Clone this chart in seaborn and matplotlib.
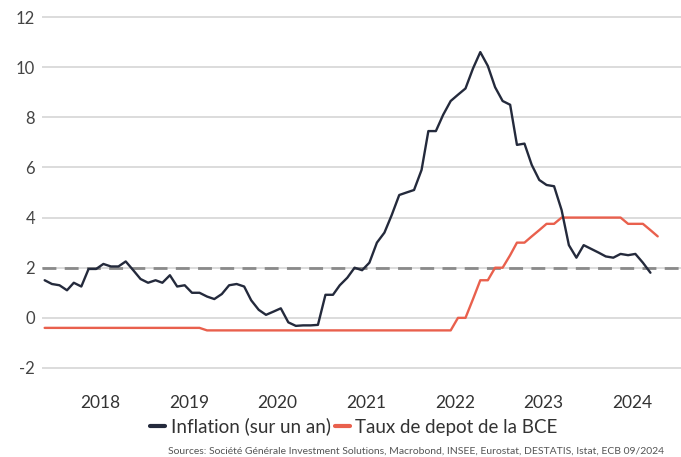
"""Inflation vs ECB deposit rate, monthly, Nov 2017 - Oct 2024."""

import matplotlib
matplotlib.use("Agg")
import matplotlib.dates as mdates
import matplotlib.pyplot as plt
import pandas as pd
import seaborn as sns

sns.set_theme(style="white")
plt.rcParams["font.family"] = ["Lato", "DejaVu Sans"]

# Year-on-year inflation (%), Nov 2017 -> Sep 2024
inflation = [
    1.5, 1.35,                                                              # 2017
    1.3, 1.1, 1.4, 1.25, 1.95, 1.95, 2.15, 2.05, 2.05, 2.25, 1.9, 1.55,     # 2018
    1.4, 1.5, 1.4, 1.7, 1.25, 1.3, 1.0, 1.0, 0.85, 0.75, 0.95, 1.3,         # 2019
    1.35, 1.25, 0.7, 0.32, 0.12, 0.25, 0.38, -0.18, -0.32, -0.3, -0.3, -0.28,  # 2020
    0.92, 0.92, 1.3, 1.6, 2.0, 1.9, 2.2, 3.0, 3.4, 4.1, 4.9, 5.0,           # 2021
    5.1, 5.9, 7.45, 7.45, 8.1, 8.65, 8.9, 9.15, 9.95, 10.6, 10.05, 9.2,     # 2022
    8.65, 8.5, 6.9, 6.95, 6.1, 5.5, 5.3, 5.25, 4.3, 2.9, 2.4, 2.9,          # 2023
    2.75, 2.6, 2.45, 2.4, 2.55, 2.5, 2.55, 2.2, 1.8,                        # 2024
]

# ECB deposit facility rate (%), Nov 2017 -> Oct 2024
deposit_rate = [
    -0.4, -0.4,                                                             # 2017
    -0.4, -0.4, -0.4, -0.4, -0.4, -0.4, -0.4, -0.4, -0.4, -0.4, -0.4, -0.4, # 2018
    -0.4, -0.4, -0.4, -0.4, -0.4, -0.4, -0.4, -0.4, -0.5, -0.5, -0.5, -0.5, # 2019
    -0.5, -0.5, -0.5, -0.5, -0.5, -0.5, -0.5, -0.5, -0.5, -0.5, -0.5, -0.5, # 2020
    -0.5, -0.5, -0.5, -0.5, -0.5, -0.5, -0.5, -0.5, -0.5, -0.5, -0.5, -0.5, # 2021
    -0.5, -0.5, -0.5, -0.5, -0.5, -0.5, 0.0, 0.0, 0.75, 1.5, 1.5, 2.0,      # 2022
    2.0, 2.5, 3.0, 3.0, 3.25, 3.5, 3.75, 3.75, 4.0, 4.0, 4.0, 4.0,          # 2023
    4.0, 4.0, 4.0, 4.0, 4.0, 3.75, 3.75, 3.75, 3.5, 3.25,                   # 2024
]

y_ticks = [-2, 0, 2, 4, 6, 8, 10, 12]
year_labels = ["2018", "2019", "2020", "2021", "2022", "2023", "2024"]
target = 2

infl_dates = pd.date_range("2017-11-01", periods=len(inflation), freq="MS") + pd.Timedelta(days=14)
rate_dates = pd.date_range("2017-11-01", periods=len(deposit_rate), freq="MS") + pd.Timedelta(days=14)
infl_df = pd.DataFrame({"date": infl_dates, "value": inflation})
rate_df = pd.DataFrame({"date": rate_dates, "value": deposit_rate})

W, H = 681, 457
fig = plt.figure(figsize=(W / 100, H / 100), dpi=100)
ax = fig.add_axes([42 / W, (H - 370.5) / H, (W - 42) / W, (370.5 - 14.5) / H])

for y in y_ticks:
    ax.axhline(y, color="#d6d6d6", linewidth=1.2, zorder=1)
ax.axhline(target, color="#8a8a8a", linewidth=2, linestyle=(0, (5, 3)), zorder=2)

sns.lineplot(data=infl_df, x="date", y="value", ax=ax, color="#242a3c", linewidth=1.7,
             label="Inflation (sur un an)", zorder=4)
sns.lineplot(data=rate_df, x="date", y="value", ax=ax, color="#e9604d", linewidth=1.7,
             label="Taux de depot de la BCE", zorder=3)

ax.set_xlim(pd.Timestamp("2017-11-04"), pd.Timestamp("2025-01-19"))
ax.set_ylim(-2.1, 12.1)
ax.set_yticks(y_ticks)
ax.set_yticklabels([str(v) for v in y_ticks])
ax.set_xlabel("")
ax.set_ylabel("")

# year boundary ticks without labels, labels centred mid-year
ax.xaxis.set_major_locator(mdates.YearLocator())
ax.xaxis.set_major_formatter(plt.NullFormatter())
ax.set_xticks([pd.Timestamp(f"{y}-07-02") for y in year_labels], minor=True)
ax.set_xticklabels(year_labels, minor=True)
ax.tick_params(axis="x", which="major", length=4, width=1, color="#bdbdbd", direction="out")
ax.tick_params(axis="x", which="minor", length=0, pad=8, labelsize=12.5, labelcolor="#333333")
ax.tick_params(axis="y", length=0, pad=5, labelsize=12, labelcolor="#444444")

for side in ["top", "right", "left"]:
    ax.spines[side].set_visible(False)
ax.spines["bottom"].set_position(("outward", 10))
ax.spines["bottom"].set_visible(False)

leg = ax.legend(loc="center", bbox_to_anchor=(354 / W, 1 - 426.7 / H), bbox_transform=fig.transFigure,
                ncol=2, frameon=False, fontsize=13.5, handlelength=0.8, handletextpad=0.3,
                columnspacing=0.2)
for line in leg.get_lines():
    line.set_linewidth(3)
for t in leg.get_texts():
    t.set_color("#333333")

fig.text(168 / W, 1 - 451 / H,
         "Sources: Société Générale Investment Solutions, Macrobond, INSEE, Eurostat, DESTATIS, Istat, ECB 09/2024",
         fontsize=7.5, color="#555555", va="center", ha="left")

fig.savefig("out.png", dpi=100)
plt.close(fig)
